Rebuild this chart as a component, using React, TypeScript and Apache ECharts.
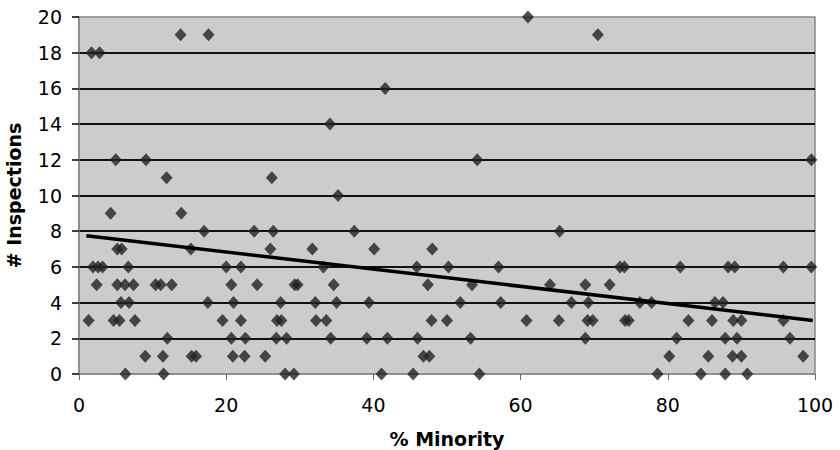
import React, { useEffect, useRef } from "react";
import * as echarts from "echarts";

// % Minority values grouped by number of inspections
const inspections20 = [61.0];
const inspections19 = [13.8, 17.6, 70.5];
const inspections18 = [1.7, 2.8];
const inspections16 = [41.6];
const inspections14 = [34.1];
const inspections12 = [5.0, 9.1, 54.1, 99.5];
const inspections11 = [11.9, 26.2];
const inspections10 = [35.2];
const inspections9 = [4.3, 13.9];
const inspections8 = [17.0, 23.8, 26.4, 37.4, 65.3];
const inspections7 = [5.2, 5.8, 15.2, 26.0, 31.7, 40.1, 48.0];
const inspections6 = [1.9, 2.6, 3.2, 6.7, 20.0, 22.0, 33.2, 45.9, 50.2, 57.0, 73.5, 74.1, 81.7, 88.2, 89.1, 95.7, 99.5];
const inspections5 = [2.4, 5.2, 6.25, 7.4, 10.4, 11.1, 12.6, 20.7, 24.2, 29.3, 29.7, 34.6, 47.4, 53.4, 64.0, 68.8, 72.1];
const inspections4 = [5.7, 6.8, 17.5, 21.0, 27.4, 32.1, 35.0, 39.4, 51.8, 57.3, 66.9, 69.2, 76.2, 77.8, 86.4, 87.5];
const inspections3 = [1.3, 4.7, 5.5, 7.6, 19.5, 22.0, 26.9, 27.5, 32.2, 33.6, 47.9, 50.0, 60.8, 65.2, 69.1, 69.8, 74.2, 74.7, 82.8, 86.0, 88.9, 90.0, 95.7];
const inspections2 = [12.0, 20.7, 22.6, 26.8, 28.2, 34.2, 39.1, 41.9, 46.0, 53.2, 68.8, 81.2, 87.8, 89.4, 96.6];
const inspections1 = [9.0, 11.4, 15.3, 15.9, 20.9, 22.5, 25.3, 46.8, 47.6, 80.2, 85.5, 88.8, 90.0, 98.4];
const inspections0 = [6.3, 11.5, 28.0, 29.2, 41.1, 45.4, 54.4, 78.6, 84.5, 87.8, 90.8];

const rows: [number, number[]][] = [
  [20, inspections20], [19, inspections19], [18, inspections18], [16, inspections16],
  [14, inspections14], [12, inspections12], [11, inspections11], [10, inspections10],
  [9, inspections9], [8, inspections8], [7, inspections7], [6, inspections6],
  [5, inspections5], [4, inspections4], [3, inspections3], [2, inspections2],
  [1, inspections1], [0, inspections0],
];

// Linear trendline end points
const trendX = [1.0, 99.7];
const trendY = [7.75, 3.0];

const FONT = "'DejaVu Sans', Verdana, sans-serif";

export default function App() {
  const ref = useRef<HTMLDivElement>(null);
  useEffect(() => {
    if (!ref.current) return;
    const chart = echarts.init(ref.current, undefined, { renderer: "svg" });
    const points: number[][] = [];
    rows.forEach(([y, xs]) => xs.forEach((x) => points.push([x, y])));
    chart.setOption({
      animation: false,
      backgroundColor: "#ffffff",
      grid: {
        left: 79,
        right: 25,
        top: 17,
        bottom: 76,
        outerBoundsMode: "none",
        containLabel: false,
        show: true,
        backgroundColor: "#cccccc",
        borderColor: "#888888",
        borderWidth: 1.5,
      },
      xAxis: {
        type: "value",
        min: 0,
        max: 100,
        interval: 20,
        name: "% Minority",
        nameLocation: "middle",
        nameGap: 55,
        nameTextStyle: { fontFamily: FONT, fontWeight: "bold", fontSize: 19, color: "#000" },
        axisLine: { show: true, lineStyle: { color: "#888888", width: 1.5 } },
        axisTick: { show: true, inside: false, length: 6, lineStyle: { color: "#666666" } },
        axisLabel: { fontFamily: FONT, fontSize: 19, color: "#000", margin: 21 },
        splitLine: { show: false },
      },
      yAxis: {
        type: "value",
        min: 0,
        max: 20,
        interval: 2,
        name: "# Inspections",
        nameLocation: "middle",
        nameGap: 56,
        nameTextStyle: { fontFamily: FONT, fontWeight: "bold", fontSize: 19, color: "#000" },
        axisLine: { show: true, lineStyle: { color: "#888888", width: 1.5 } },
        axisTick: { show: true, inside: false, length: 7, lineStyle: { color: "#000", width: 1.5 } },
        axisLabel: { fontFamily: FONT, fontSize: 19, color: "#000", margin: 17 },
        splitLine: {
          show: true,
          showMinLine: false,
          showMaxLine: false,
          lineStyle: { color: "#111", width: 2 },
        },
      },
      series: [
        {
          type: "scatter",
          data: points,
          symbol: "diamond",
          symbolSize: [12, 13],
          itemStyle: { color: "#222222" },
          z: 3,
        },
        {
          type: "line",
          data: trendX.map((x, i) => [x, trendY[i]]),
          symbol: "none",
          lineStyle: { color: "#000", width: 3.5 },
          z: 4,
        },
      ],
    });
    return () => chart.dispose();
  }, []);
  return (
    <div
      ref={ref}
      style={{ position: "fixed", left: 0, top: 0, width: 840, height: 450 }}
    />
  );
}
